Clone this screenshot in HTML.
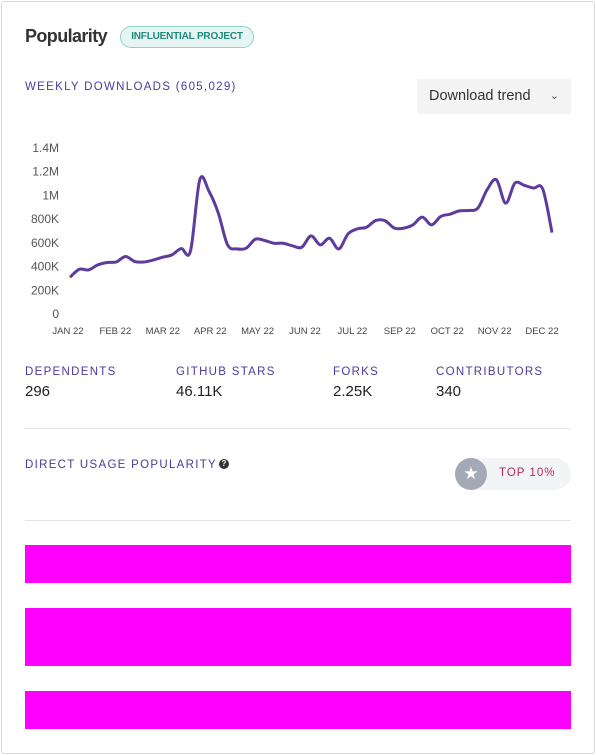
<!DOCTYPE html>
<html><head><meta charset="utf-8"><style>
*{margin:0;padding:0;box-sizing:border-box}
body{width:596px;height:755px;background:#fff;font-family:"Liberation Sans",sans-serif;position:relative;overflow:hidden}
.card{position:absolute;left:1px;top:1px;width:594px;height:753px;border:1px solid #d9d9d9;border-radius:3px}
.abs{position:absolute}
.lbl{color:#4b3a9e;font-size:11.5px;letter-spacing:1.3px;white-space:nowrap}
.val{color:#222;font-size:15px;white-space:nowrap}
.mag{position:absolute;left:25px;width:546px;background:#ff00ff}
</style></head><body>
<div class="card"></div>
<div class="abs" style="left:25px;top:26px;font-size:18px;font-weight:bold;color:#333;letter-spacing:-0.6px">Popularity</div>
<div class="abs" style="left:120px;top:26px;width:134px;height:22px;border:1px solid #8fd0c8;background:#e6f5f3;border-radius:11px;color:#1f8a80;font-size:10px;font-weight:bold;text-align:center;line-height:20px;letter-spacing:-0.2px">INFLUENTIAL PROJECT</div>
<div class="abs lbl" style="left:25px;top:81px">WEEKLY DOWNLOADS (605,029)</div>
<div class="abs" style="left:417px;top:79px;width:154px;height:35px;background:#f4f4f4;border-radius:2px;font-size:14.5px;color:#333;line-height:35px;padding-left:12px">Download trend<span style="position:absolute;right:12px;top:0;font-size:11px;color:#555">&#8964;</span></div>
<svg id="chart" class="abs" style="left:0;top:130px" width="596" height="215"></svg>
<div class="abs lbl" style="left:25px;top:366px">DEPENDENTS</div>
<div class="abs val" style="left:25px;top:383px">296</div>
<div class="abs lbl" style="left:176px;top:366px">GITHUB STARS</div>
<div class="abs val" style="left:176px;top:383px">46.11K</div>
<div class="abs lbl" style="left:333px;top:366px">FORKS</div>
<div class="abs val" style="left:333px;top:383px">2.25K</div>
<div class="abs lbl" style="left:436px;top:366px">CONTRIBUTORS</div>
<div class="abs val" style="left:436px;top:383px">340</div>
<div class="abs" style="left:25px;top:428px;width:546px;height:1px;background:#e3e3e3"></div>
<div class="abs lbl" style="left:25px;top:459px">DIRECT USAGE POPULARITY</div>
<div class="abs" style="left:219px;top:459px;width:10px;height:10px;border-radius:50%;background:#333;color:#fff;font-size:8px;font-weight:bold;text-align:center;line-height:10px">?</div>
<div class="abs" style="left:455px;top:458px;width:116px;height:32px;border-radius:16px;background:#f3f4f6">
<div class="abs" style="left:0;top:0;width:32px;height:32px;border-radius:50%;background:#a3a9b6;color:#fff;text-align:center;line-height:32px;font-size:17px">&#9733;</div>
<div class="abs" style="left:44px;top:9px;color:#b5285f;font-size:11.5px;letter-spacing:1px">TOP 10%</div>
</div>
<div class="abs" style="left:25px;top:520px;width:546px;height:1px;background:#e3e3e3"></div>
<div class="mag" style="top:545px;height:38px"></div>
<div class="mag" style="top:608px;height:58px"></div>
<div class="mag" style="top:691px;height:38px"></div>
<script>
const yTicks=[0,200,400,600,800,1000,1200,1400];
const yTickLabels=["0","200K","400K","600K","800K","1M","1.2M","1.4M"];
const xTickLabels=["JAN 22","FEB 22","MAR 22","APR 22","MAY 22","JUN 22","JUL 22","SEP 22","OCT 22","NOV 22","DEC 22"];
const downloads=[310,377,372,414,434,439,485,442,439,456,479,499,552,532,1132,1034,851,583,549,555,631,620,597,597,575,563,659,583,639,549,676,718,732,789,786,724,724,752,817,752,823,842,870,873,893,1048,1132,935,1104,1085,1062,1054,687];
const svg=document.getElementById('chart');
const NS='http://www.w3.org/2000/svg';
const OY=130;
function yS(v){return 314-OY-v/1400*166;}
function xS(i){return 70+i*(552-70)/(downloads.length-1);}
function xT(i){return 68+i*(542-68)/(xTickLabels.length-1);}
yTicks.forEach((t,i)=>{
  const e=document.createElementNS(NS,'text');
  e.setAttribute('x',59);e.setAttribute('y',yS(t)+4);e.setAttribute('text-anchor','end');
  e.setAttribute('font-size','12');e.setAttribute('fill','#555');e.setAttribute('font-family','Liberation Sans, sans-serif');
  e.textContent=yTickLabels[i];
  
  
  svg.appendChild(e);
});
xTickLabels.forEach((t,i)=>{
  const e=document.createElementNS(NS,'text');
  e.setAttribute('x',xT(i));e.setAttribute('y',334-OY);e.setAttribute('text-anchor','middle');
  e.setAttribute('font-size','9.5');e.setAttribute('fill','#444');e.setAttribute('font-family','Liberation Sans, sans-serif');
  e.textContent=t;
  
  
  svg.appendChild(e);
});
const pts=downloads.map((v,i)=>[xS(i),yS(v)]);
let d='M'+pts[0][0]+','+pts[0][1];
for(let i=0;i<pts.length-1;i++){
  const p0=pts[Math.max(0,i-1)],p1=pts[i],p2=pts[i+1],p3=pts[Math.min(pts.length-1,i+2)];
  const c1x=p1[0]+(p2[0]-p0[0])/6,c1y=p1[1]+(p2[1]-p0[1])/6;
  const c2x=p2[0]-(p3[0]-p1[0])/6,c2y=p2[1]-(p3[1]-p1[1])/6;
  d+=` C${c1x},${c1y} ${c2x},${c2y} ${p2[0]},${p2[1]}`;
}
const path=document.createElementNS(NS,'path');
path.setAttribute('d',d);path.setAttribute('fill','none');path.setAttribute('stroke','#5e3c9e');path.setAttribute('stroke-width','3');path.setAttribute('stroke-linejoin','round');


svg.appendChild(path);
</script>
</body></html>
